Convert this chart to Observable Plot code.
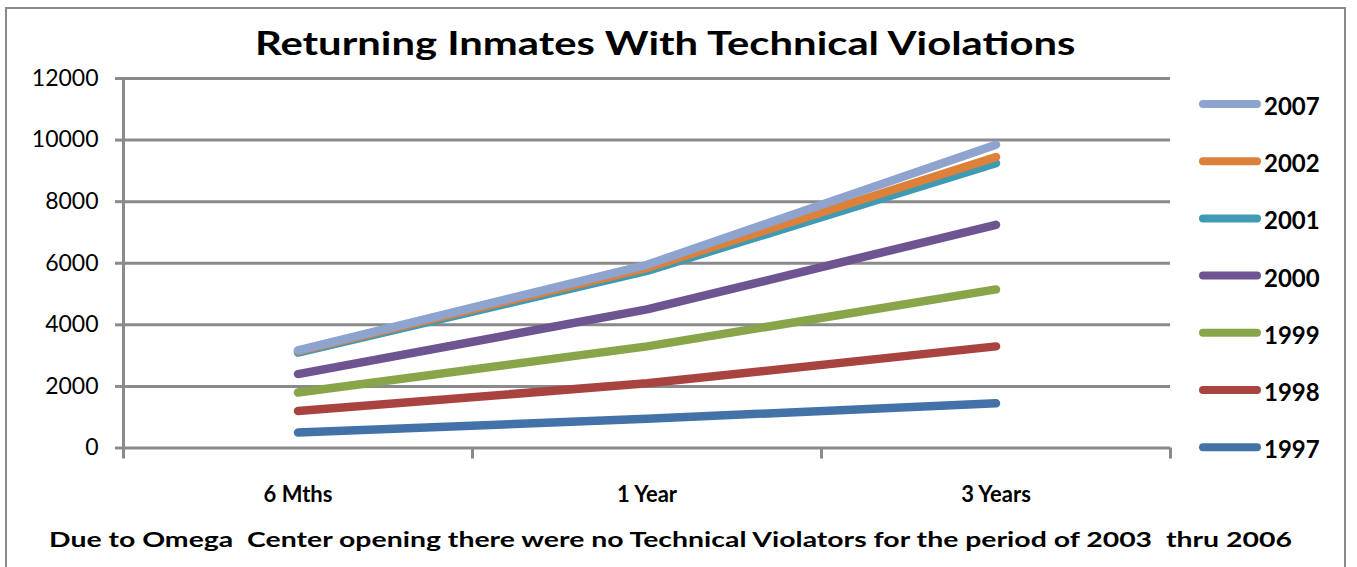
<!DOCTYPE html>
<html>
<head>
<meta charset="utf-8">
<script src="https://cdn.jsdelivr.net/npm/d3@7"></script>
<script src="https://cdn.jsdelivr.net/npm/@observablehq/plot@0.6"></script>
<style>
  html, body { margin: 0; padding: 0; background: #fff; }
  #wrap { position: relative; width: 1357px; height: 567px; overflow: hidden; background: #fff; font-family: Lato, "Open Sans", sans-serif; }
  #border { position: absolute; left: 5px; top: 7px; width: 1341px; height: 700px; border: 2.5px solid #8a8a8a; box-sizing: border-box; }
  .txt { position: absolute; white-space: pre; font-weight: bold; color: #000; line-height: 1.2; transform-origin: 0 0; display: inline-block; }
  #chart { position: absolute; left: 0; top: 70px; }
  #legend { position: absolute; left: 0; top: 0; }
</style>
</head>
<body>
<div id="wrap">
  <div id="border"></div>
  <span id="title" class="txt"></span>
  <div id="chart"></div>
  <svg id="legend" width="1357" height="567"></svg>
  <span id="caption" class="txt"></span>
</div>
<script>
const titleText = "Returning Inmates With Technical Violations";
const captionText = "Due to Omega  Center opening there were no Technical Violators for the period of 2003  thru 2006";
const categories = ["6 Mths", "1 Year", "3 Years"];
const years = ["1997", "1998", "1999", "2000", "2001", "2002", "2007"];
const legendOrder = ["2007", "2002", "2001", "2000", "1999", "1998", "1997"];
const v1997 = [500, 950, 1450];
const v1998 = [1200, 2100, 3300];
const v1999 = [1800, 3300, 5150];
const v2000 = [2400, 4500, 7250];
const v2001 = [3100, 5750, 9250];
const v2002 = [3150, 5850, 9450];
const v2007 = [3170, 5950, 9850];
const yTicks = [0, 2000, 4000, 6000, 8000, 10000, 12000];
const colors = ["#4372A9", "#A84340", "#88A54A", "#6E5592", "#3F9AB3", "#DD803A", "#8EA4CE"];

const series = {"1997": v1997, "1998": v1998, "1999": v1999, "2000": v2000, "2001": v2001, "2002": v2002, "2007": v2007};
const rows = years.flatMap(yr => categories.map((c, i) => ({year: yr, cat: c, xi: i + 0.5, value: series[yr][i]})));
const colorOf = Object.fromEntries(years.map((y, i) => [y, colors[i]]));
const gridColor = "#8a8a8a";

const plot = Plot.plot({
  width: 1357,
  height: 450,
  marginTop: 8,
  marginBottom: 72.5,
  marginLeft: 123,
  marginRight: 187,
  x: {domain: [0, categories.length], axis: null},
  y: {domain: [0, 12000], axis: null},
  color: {domain: years, range: colors},
  style: {fontFamily: "Lato, 'Open Sans', sans-serif", color: "#000", background: "transparent", overflow: "visible"},
  marks: [
    Plot.gridY(yTicks.slice(1), {stroke: gridColor, strokeOpacity: 1, strokeWidth: 3}),
    Plot.ruleY([0], {stroke: gridColor, strokeWidth: 3}),
    Plot.ruleX([0], {stroke: gridColor, strokeWidth: 3}),
    Plot.axisY(yTicks, {label: null, tickSize: 8, tickPadding: 17, stroke: gridColor, strokeWidth: 3, fill: "#000", fontSize: 23, tickFormat: d => String(d)}),
    Plot.axisX(d3.range(0, categories.length + 1), {label: null, tickSize: 11, stroke: gridColor, strokeWidth: 3, tickFormat: () => ""}),
    Plot.axisX(categories.map((c, i) => i + 0.5), {label: null, tickSize: 0, tickPadding: 38, fill: "#000", fontSize: 22, fontWeight: "bold", tickFormat: d => categories[Math.floor(d)]}),
    Plot.line(rows, {x: "xi", y: "value", z: "year", stroke: "year", strokeWidth: 8.5, strokeLinecap: "round", strokeLinejoin: "round"})
  ]
});
document.getElementById("chart").append(plot);

// Legend
const lg = d3.select("#legend");
legendOrder.forEach((yr, i) => {
  const cy = 104 + i * 57.2;
  lg.append("line").attr("x1", 1203).attr("x2", 1257).attr("y1", cy).attr("y2", cy)
    .attr("stroke", colorOf[yr]).attr("stroke-width", 8).attr("stroke-linecap", "round");
  lg.append("text").attr("x", 1264).attr("y", cy + 11).attr("font-family", "Lato, 'Open Sans', sans-serif")
    .attr("font-size", 24).attr("font-weight", "bold").attr("fill", "#000").text(yr);
});

// Title & caption, fitted to reference widths
function place(id, text, fs, left, baseline, targetWidth) {
  const el = document.getElementById(id);
  el.style.transform = "none";
  el.textContent = text;
  el.style.fontSize = fs + "px";
  el.style.left = left + "px";
  el.style.top = (baseline - 0.987 * fs) + "px";
  const w = el.offsetWidth;
  if (w > 0) el.style.transform = `scaleX(${targetWidth / w})`;
}
function layout() {
  place("title", titleText, 32, 255, 56, 820);
  place("caption", captionText, 21, 49, 547, 1243);
}
layout();
if (document.fonts && document.fonts.ready) document.fonts.ready.then(layout);
</script>
</body>
</html>
